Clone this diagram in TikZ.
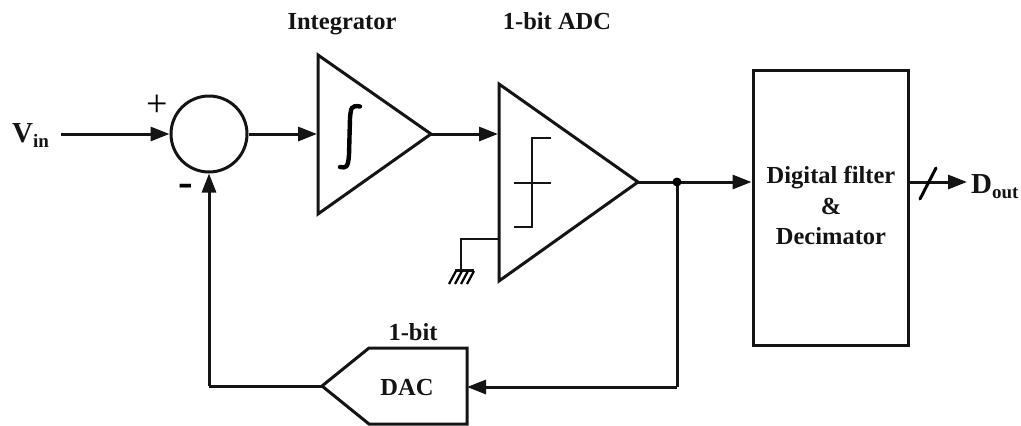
\documentclass[tikz,border=0pt]{standalone}
\usepackage{fontspec}
\setmainfont{Liberation Serif}
\usetikzlibrary{arrows.meta}
\tikzset{
  x=1pt,y=-1pt,
  wire/.style={line width=3pt,draw=black!92},
  thin wire/.style={line width=2.5pt,draw=black!92},
  flow/.style={wire,-{Triangle[length=19pt,width=14pt]},shorten >=0pt},
  block/.style={line width=3pt,draw=black!92,line join=miter},
  lab/.style={font=\fontsize{24.5}{26}\selectfont\bfseries,inner sep=0pt,text=black!92,align=center,anchor=base},
  big/.style={font=\fontsize{29}{31}\selectfont\bfseries},
}
\begin{document}
\begin{tikzpicture}
\useasboundingbox (0,0) rectangle (1021,426);
% coordinates
\coordinate (intA) at (318,55);
\coordinate (intB) at (318,214);
\coordinate (intOut) at (431,134);
\coordinate (intIn) at (317,134);
\coordinate (adcA) at (499,84);
\coordinate (adcB) at (499,281);
\coordinate (adcOut) at (638,182);
\coordinate (adcIn) at (498,134);
\coordinate (adcRef) at (499,239);
\coordinate (vinStart) at (61,134);
\coordinate (junction) at (677,182);
\coordinate (dacTip) at (322,386);
\coordinate (dacIn) at (467,387);
\coordinate (gndCorner) at (461,239);
\coordinate (gnd) at (461,270);
\coordinate (fbCorner) at (209,386);
\coordinate (dacCorner) at (677,387);
% shapes
\node[circle,block,minimum size=76pt,inner sep=0pt] (sum) at (209,134) {};
\node[block,minimum width=155pt,minimum height=275pt,inner sep=0pt] (filter) at (830.5,207.5) {};
\draw[block] (intA) -- (intOut) -- (intB) -- cycle;
\draw[block] (adcA) -- (adcOut) -- (adcB) -- cycle;
\draw[block] (dacTip) -- (369,348) -- (467,348) -- (467,424) -- (369,424) -- cycle;
% integral sign
\draw[line width=4.4pt,line cap=round] (360,106.5) .. controls (351,105) and (351,108) .. (350,118) -- (349,155) .. controls (348,168) and (346,168) .. (340,167);
% comparator symbol
\draw[thin wire] (551,138) -- (532,138) -- (532,227) -- (514,227);
\draw[thin wire] (514,183) -- (551,183);
% ground
\draw[thin wire] (adcRef) -- (gndCorner) -- (gnd);
\draw[thin wire] (455,270.5) -- (474,270.5);
\foreach \hx in {456,462,468,474}{\draw[line width=2.2pt] (\hx,271) -- (\hx-7,284);}
% connectors
\draw[flow] (vinStart) -- (sum.west);
\draw[flow] (sum.east) -- (intIn);
\draw[flow] (intOut) -- (adcIn);
\draw[flow] (adcOut) -- (filter.west |- adcOut);
\draw[wire] (junction) -- (dacCorner);
\draw[flow] (dacCorner) -- (dacIn);
\draw[wire] (dacTip) -- (fbCorner);
\draw[flow] (fbCorner) -- (sum.south);
\fill[black] (junction) circle (4.5pt);
% output
\coordinate (outEnd) at (967,182);
\draw[flow] (filter.east |- adcOut) -- (outEnd);
\draw[line width=3pt,line cap=round] (936,168) -- (920,199);
% labels
\node[lab] (tInt) at (342,29) {Integrator};
\node[lab] (tAdc) at (557,29) {1-bit ADC};
\node[lab] (tBit) at (413,340) {1-bit};
\node[lab] (tDac) at (407,395) {DAC};
\node[lab] (tDig) at (831,183) {Digital filter};
\node[lab] (tAmp) at (831,214) {\&};
\node[lab] (tDec) at (831,244) {Decimator};
\node[lab,big,anchor=base west] (tVin) at (12,142) {V\raisebox{-5pt}{\fontsize{19}{20}\selectfont in}};
\node[lab,big,anchor=base west] (tOut) at (971,193) {D\raisebox{-5pt}{\fontsize{19}{20}\selectfont out}};
\node[inner sep=0pt,font=\fontsize{38}{40}\selectfont] (tPlus) at (157,106) {+};
\node[inner sep=0pt,font=\fontsize{44}{46}\selectfont\bfseries] (tMinus) at (186,190) {-};
\end{tikzpicture}
\end{document}
